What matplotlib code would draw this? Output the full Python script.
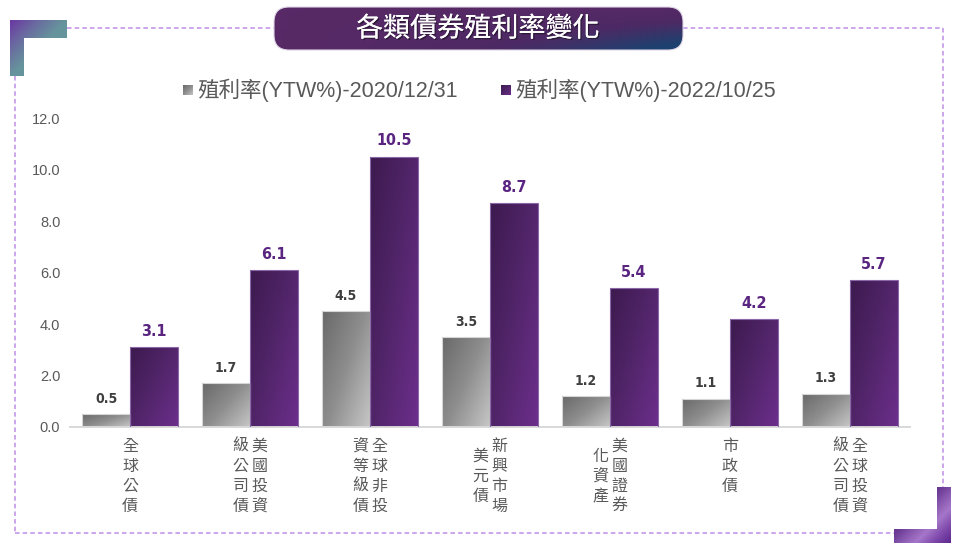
import numpy as np
import matplotlib
matplotlib.use('Agg')
import matplotlib.pyplot as plt
from matplotlib.colors import LinearSegmentedColormap
from matplotlib.patches import Polygon, FancyBboxPatch, Rectangle
from matplotlib.transforms import offset_copy
from matplotlib import font_manager as fm
import matplotlib.patheffects as pe

# ---------------- data ----------------
categories = ['全球公債', '美國投資級公司債', '全球非投資等級債', '新興市場美元債',
              '美國證券化資產', '市政債', '全球投資級公司債']
label_columns = [['全球公債'], ['美國投資', '級公司債'], ['全球非投', '資等級債'],
                 ['新興市場', '美元債'], ['美國證券', '化資產'], ['市政債'],
                 ['全球投資', '級公司債']]
series_names = ['殖利率(YTW%)-2020/12/31', '殖利率(YTW%)-2022/10/25']
ytw_2020 = [0.5, 1.7, 4.5, 3.5, 1.2, 1.1, 1.3]
ytw_2022 = [3.1, 6.1, 10.5, 8.7, 5.4, 4.2, 5.7]
yticks = [0, 2, 4, 6, 8, 10, 12]
title = '各類債券殖利率變化'

# ---------------- fonts ----------------
names = {f.name for f in fm.fontManager.ttflist}
cond_stretch = {(f.name, f.stretch) for f in fm.fontManager.ttflist}
if 'Liberation Sans Narrow' in names:
    num_font = dict(family='Liberation Sans Narrow')
elif any(n == 'DejaVu Sans' and s in ('condensed', 'semi-condensed', 600, 500, 300, 400) and s != 'normal'
         for n, s in cond_stretch):
    num_font = dict(family='DejaVu Sans', fontstretch='condensed')
else:
    num_font = dict(family='Liberation Sans')
CJK = ['Noto Sans CJK TC', 'DejaVu Sans']
MIX = ['Liberation Sans', 'Noto Sans CJK TC', 'DejaVu Sans']
TXT = '#595959'

W, H = 960, 549
fig = plt.figure(figsize=(W / 100, H / 100), dpi=100)
fig.patch.set_facecolor('white')

# decoration layer in pixel coordinates
deco = fig.add_axes([0, 0, 1, 1], zorder=0)
deco.set_xlim(0, W)
deco.set_ylim(H, 0)
deco.axis('off')

gray_cmap = LinearSegmentedColormap.from_list('g', ['#696969', '#8e8e8e', '#c6c6c6'])
purp_cmap = LinearSegmentedColormap.from_list('p', ['#3c1a4e', '#52256a', '#6c2e8c'])


def grad_image(ax, patch, extent, cmap, func, zorder, n=80):
    X, Y = np.meshgrid(np.linspace(0, 1, n), np.linspace(0, 1, n))
    im = ax.imshow(func(X, Y), extent=extent, cmap=cmap, vmin=0, vmax=1,
                   aspect='auto', origin='upper', interpolation='bilinear',
                   zorder=zorder)
    im.set_clip_path(patch)
    return im


# dashed frame
dash = dict(color='#c08ee8', lw=1.1, linestyle=(0, (3, 2)))
deco.plot([67, 274], [28, 28], **dash)
deco.plot([683, 943], [28, 28], **dash)
deco.plot([943, 943], [28, 487], **dash)
deco.plot([15, 894], [533, 533], **dash)
deco.plot([15, 15], [76, 533], **dash)

# top-left corner
tl = Polygon([(10, 20), (67, 20), (67, 38), (24, 38), (24, 76), (10, 76)],
             closed=True, facecolor='none', edgecolor='none')
deco.add_patch(tl)
tl_cmap = LinearSegmentedColormap.from_list('tl', ['#6a38a2', '#6a6aa0', '#66949c'])
grad_image(deco, tl, (10, 67, 76, 20), tl_cmap,
           lambda X, Y: np.clip((X * 57 + Y * 56) / 57, 0, 1), 2)

# bottom-right corner
br = Polygon([(937, 487), (951, 487), (951, 543), (894, 543), (894, 529), (937, 529)],
             closed=True, facecolor='none', edgecolor='none')
deco.add_patch(br)
br_cmap = LinearSegmentedColormap.from_list(
    'br', [(0, '#5a2c80'), (0.5, '#6a3a94'), (0.74, '#a577c9'), (0.88, '#7c46aa'), (1, '#5e2a90')])
grad_image(deco, br, (894, 951, 543, 487), br_cmap,
           lambda X, Y: np.clip((X * 57 + Y * 56) / 113, 0, 1) ** 0.8, 2)

# title box
tb = FancyBboxPatch((274, 7), 409, 43, boxstyle='round,pad=0,rounding_size=15',
                    facecolor='none', edgecolor='#ddd5e5', lw=0.8, zorder=3)
deco.add_patch(tb)
tb_cmap = LinearSegmentedColormap.from_list('tb', ['#572966', '#4c2a64', '#1d416f'])
grad_image(deco, tb, (274, 683, 50, 7), tb_cmap,
           lambda X, Y: np.clip((X ** 1.4) * (Y ** 0.8) * 1.15, 0, 1), 2)
deco.text(478, 29, title, color='white', fontsize=19.5, family=CJK,
          ha='center', va='center', zorder=4,
          path_effects=[pe.withSimplePatchShadow(offset=(1, -1), shadow_rgbFace='#1a0f20', alpha=0.6),
                        pe.Normal()])

# legend
leg = [(183, series_names[0], gray_cmap), (501, series_names[1], purp_cmap)]
for lx, name, cm in leg:
    sq = Rectangle((lx, 85), 10, 10, facecolor='none', edgecolor='none')
    deco.add_patch(sq)
    grad_image(deco, sq, (lx, lx + 10, 95, 85), cm, lambda X, Y: 0.5 * X + 0.5 * Y, 2)
    deco.text(lx + 14, 90, name, color=TXT, fontsize=15.5, family=MIX,
              ha='left', va='center')

# ---------------- main axes ----------------
ax_left, ax_right, ax_top, ax_bot = 70, 910, 118, 427
ax = fig.add_axes([ax_left / W, (H - ax_bot) / H, (ax_right - ax_left) / W,
                   (ax_bot - ax_top) / H], zorder=1)
ax.set_facecolor('none')

x = np.arange(len(categories))
bw = 0.4
bars_a = ax.bar(x - bw / 2, ytw_2020, bw, color='none', edgecolor='#d6d6d6', lw=0.8, zorder=3)
bars_b = ax.bar(x + bw / 2, ytw_2022, bw, color='none', edgecolor='#8a67a6', lw=0.8, zorder=3)

diag = lambda X, Y: 0.55 * X + 0.45 * Y
for rect in bars_a:
    x0, h = rect.get_x(), rect.get_height()
    grad_image(ax, rect, (x0, x0 + rect.get_width(), 0, h), gray_cmap, diag, 2)
for rect in bars_b:
    x0, h = rect.get_x(), rect.get_height()
    grad_image(ax, rect, (x0, x0 + rect.get_width(), 0, h), purp_cmap, diag, 2)

for xi, v in zip(x - bw / 2, ytw_2020):
    ax.annotate(f'{v:.1f}', (xi, v), xytext=(0, 6), textcoords='offset points',
                ha='center', va='bottom', fontsize=10, fontweight='bold',
                color='#3f3f3f', **num_font)
for xi, v in zip(x + bw / 2, ytw_2022):
    ax.annotate(f'{v:.1f}', (xi, v), xytext=(0, 6), textcoords='offset points',
                ha='center', va='bottom', fontsize=11.5, fontweight='bold',
                color='#5a2580', **num_font)

ax.set_xlim(-0.5, len(categories) - 0.5)
ax.set_ylim(0, 12)
ax.set_yticks(yticks)
ax.set_yticklabels([f'{t:.1f}' for t in yticks], fontsize=10.5, color=TXT,
                   family=['Liberation Sans', 'DejaVu Sans'])
ax.tick_params(axis='y', length=0, pad=7)
ax.set_xticks([])
for s in ['left', 'right', 'top']:
    ax.spines[s].set_visible(False)
ax.spines['bottom'].set_color('#d9d9d9')
ax.spines['bottom'].set_linewidth(1.4)

# vertical category labels (traditional vertical writing, right column first)
step = 20
col_dx = 9.5
for i, cols in enumerate(label_columns):
    maxlen = max(len(c) for c in cols)
    ncol = len(cols)
    for j, col in enumerate(cols):
        dx = 0 if ncol == 1 else (col_dx if j == 0 else -col_dx)
        yoff = (maxlen - len(col)) * step / 2
        for k, ch in enumerate(col):
            tr = offset_copy(ax.get_xaxis_transform(), fig=fig, x=dx,
                             y=-(11 + yoff + k * step), units='dots')
            ax.text(i, 0, ch, transform=tr, ha='center', va='top', fontsize=11.5,
                    family=CJK, color=TXT, clip_on=False)

fig.savefig('out.png', dpi=100)
